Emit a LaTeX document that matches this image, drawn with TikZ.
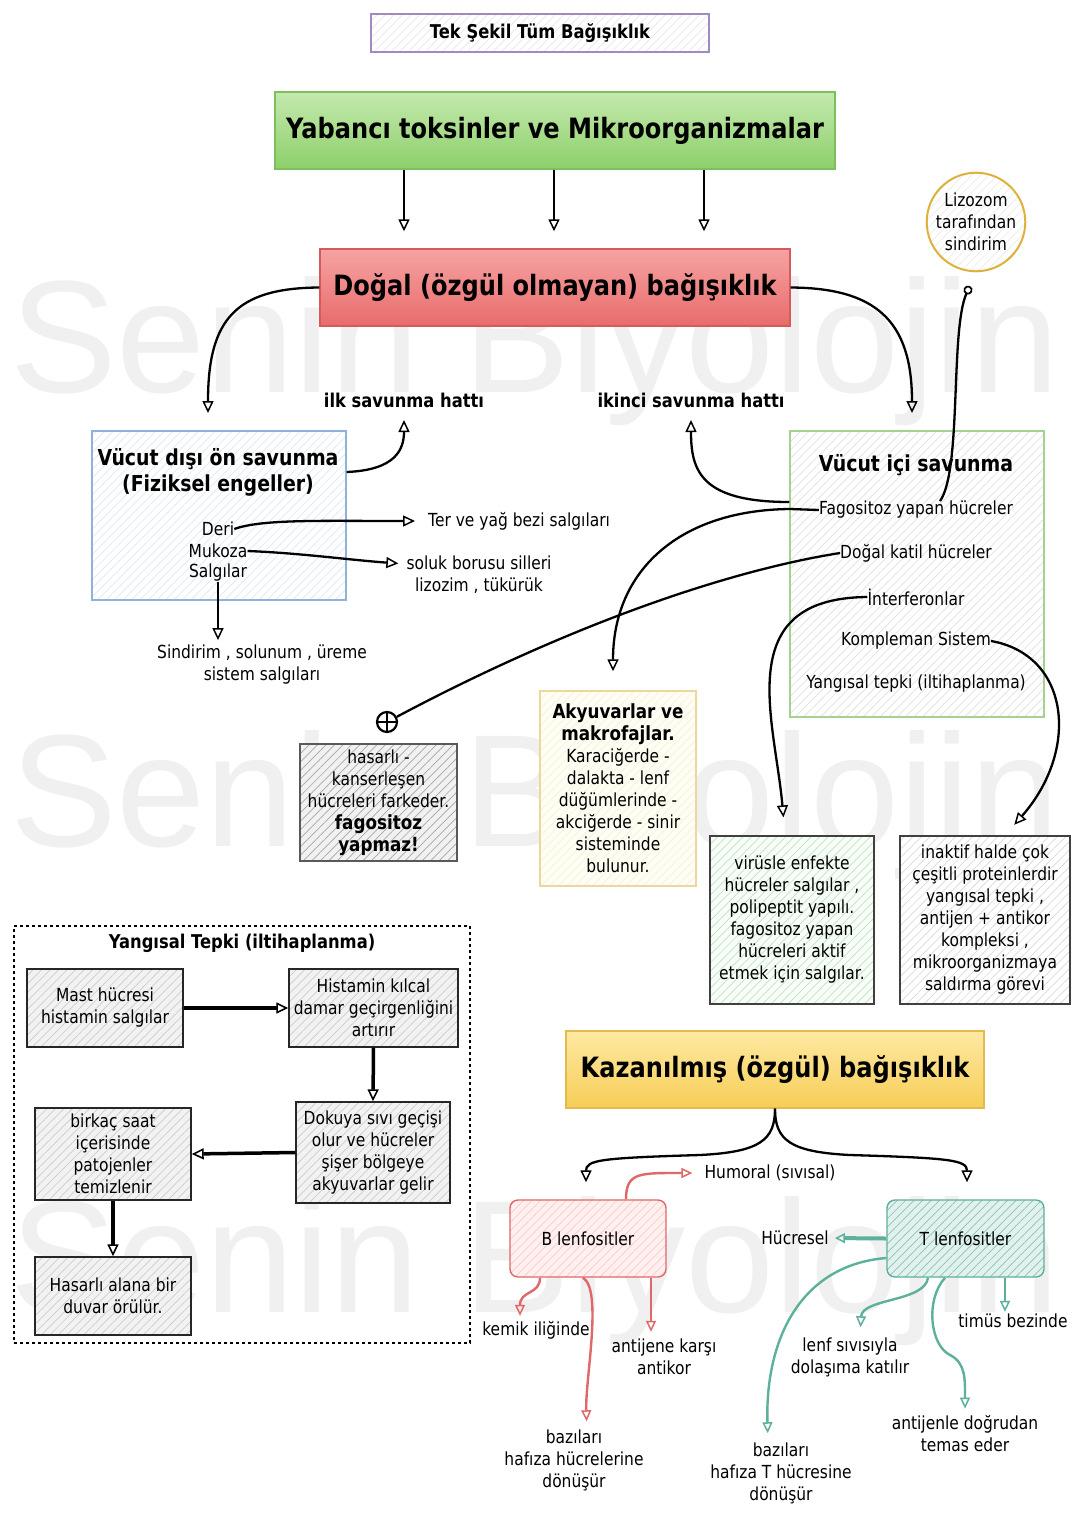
\documentclass[tikz,border=0pt]{standalone}
\usepackage{fontspec}
\setmainfont{DejaVu Sans}[FakeStretch=0.86]
\newfontfamily\wmfont{Liberation Sans}
\usetikzlibrary{arrows.meta,patterns.meta,calc}
\definecolor{purp}{HTML}{9F8BBF}
\definecolor{grnT}{HTML}{C4E9AE}
\definecolor{grnB}{HTML}{8DD06A}
\definecolor{grnD}{HTML}{7DBF5E}
\definecolor{redT}{HTML}{F6A3A3}
\definecolor{redB}{HTML}{E96B6B}
\definecolor{redD}{HTML}{D65A5A}
\definecolor{yelT}{HTML}{FDE9A2}
\definecolor{yelB}{HTML}{F7CD57}
\definecolor{yelD}{HTML}{E2BB4C}
\definecolor{bluD}{HTML}{8FB1DA}
\definecolor{lgrD}{HTML}{A7D18E}
\definecolor{goldD}{HTML}{DDB13A}
\definecolor{akyD}{HTML}{EDD79C}
\definecolor{bred}{HTML}{E06868}
\definecolor{tealc}{HTML}{5DB09C}
\begin{document}
\begin{tikzpicture}[x=1pt,y=-1pt,
  reg/.style={font=\fontsize{18}{22}\selectfont, align=center, inner sep=0pt},
  bld/.style={font=\bfseries\fontsize{19}{23}\selectfont, align=center, inner sep=0pt},
  hdr/.style={font=\bfseries\fontsize{28}{34}\selectfont, align=center},
  subh/.style={font=\bfseries\fontsize{22}{26}\selectfont, align=center, inner sep=0pt},
  hatch/.style 2 args={preaction={fill=#1}, pattern={Lines[angle=45,distance=6pt,line width=0.7pt]}, pattern color=#2},
  bx/.style={draw, line width=1.4pt, inner sep=2pt, align=center},
  arr/.style={line width=2.3pt, -{Triangle[open,length=12pt,width=11pt,line width=1.5pt]}},
  thk/.style={line width=3.5pt, -{Triangle[open,length=12pt,width=11pt,line width=1.6pt]}},
  rarr/.style={draw=bred, line width=2.4pt, -{Triangle[open,length=11pt,width=10pt,line width=1.5pt]}},
  tarr/.style={draw=tealc, line width=2.4pt, -{Triangle[open,length=11pt,width=10pt,line width=1.5pt]}},
  wm/.style={anchor=base west, inner sep=0pt, text=black!6, font=\wmfont\fontsize{160}{160}\selectfont}
]
\fill[white] (0,0) rectangle (1080,1529);
\useasboundingbox (0,0) rectangle (1080,1529);

% watermark
\node[wm] (wm1) at (10,392) {Senin Biyolojin};
\node[wm] (wm2) at (10,846) {Senin Biyolojin};
\node[wm] (wm3) at (10,1312) {Senin Biyolojin};

% top
\node[bx, draw=purp, hatch={white}{purp!22}, minimum width=338pt, minimum height=38pt, bld] (title) at (540,33) {Tek Şekil Tüm Bağışıklık};
\node[bx, draw=grnD, top color=grnT, bottom color=grnB, minimum width=560pt, minimum height=77pt, hdr] (yab) at (555,130.5) {Yabancı toksinler ve Mikroorganizmalar};
\node[bx, draw=redD, top color=redT, bottom color=redB, minimum width=470pt, minimum height=77pt, hdr] (dogal) at (555,287.5) {Doğal (özgül olmayan) bağışıklık};
\foreach \xx in {404,554,704}
  \draw[arr, shorten >=17pt] (yab.south -| \xx,0) -- (dogal.north -| \xx,0);

\node[bld] (ilk) at (404,400) {ilk savunma hattı};
\node[bld] (ikinci) at (691,400) {ikinci savunma hattı};
\coordinate (ilkA) at (404,420);
\coordinate (ikA) at (691,420);
\coordinate (lc) at (208,413);
\coordinate (rc) at (912,413);
\draw[arr] (dogal.west) .. controls (235,288) and (208,320) .. (lc);
\draw[arr] (dogal.east) .. controls (875,288) and (912,320) .. (rc);

% outer defence box
\node[draw=bluD, line width=1.4pt, hatch={white}{bluD!30}, minimum width=254pt, minimum height=169pt] (vdis) at (219,515.5) {};
\node[subh] (vdisT) at (218,472) {Vücut dışı ön savunma\\(Fiziksel engeller)};
\node[reg] (deri) at (218,529) {Deri};
\node[reg] (mukoza) at (218,551) {Mukoza};
\node[reg] (salgilar) at (218,573) {Salgılar};
\node[reg, anchor=west] (ter) at (428,521) {Ter ve yağ bezi salgıları};
\node[reg] (soluk) at (479,575) {soluk borusu silleri\\lizozim , tükürük};
\node[reg] (sindirim) at (262,665) {Sindirim , solunum , üreme\\sistem salgıları};
\draw[arr] (vdis.east |- 0,472) .. controls (395,470) and (404,450) .. (ilkA);
\draw[arr, shorten >=13pt] (deri.east) .. controls (262,519) and (320,521) .. (ter.west);
\draw[arr, shorten >=8pt] (mukoza.east) .. controls (300,553) and (350,560) .. (soluk.west |- 0,564);
\draw[arr, shorten >=5pt] (salgilar.south) -- (salgilar.south |- sindirim.north);

% inner defence box
\node[draw=lgrD, line width=1.4pt, hatch={white}{black!12}, minimum width=254pt, minimum height=286pt] (vic) at (917,574) {};
\node[subh] (vicT) at (916,465) {Vücut içi savunma};
\node[reg] (fago) at (916,510) {Fagositoz yapan hücreler};
\node[reg] (katil) at (916,553) {Doğal katil hücreler};
\node[reg] (inter) at (916,597) {İnterferonlar};
\node[reg] (komp) at (916,641) {Kompleman Sistem};
\node[reg] (yang) at (916,684) {Yangısal tepki (iltihaplanma)};
\draw[arr] (vic.west |- 0,502) .. controls (700,502) and (691,470) .. (ikA);

% lizozom
\node[circle, draw=goldD, line width=2pt, hatch={white}{black!8}, minimum size=96pt, inner sep=0pt, reg] (liz) at (976,222) {Lizozom\\tarafından\\sindirim};
\draw[line width=2.3pt, -{Circle[open,length=9pt,line width=1.7pt]}, shorten >=15pt] (fago.north -| 940,0) .. controls (962,470) and (950,330) .. (liz.south);

% lower boxes
\node[bx, draw=akyD, hatch={yellow!4}{akyD!40}, minimum width=156pt, minimum height=195pt, reg] (akyu) at (618,788.5)
  {{\bfseries\fontsize{19.5}{22}\selectfont Akyuvarlar ve}\\{\bfseries\fontsize{19.5}{22}\selectfont makrofajlar.}\\Karaciğerde -\\dalakta - lenf\\düğümlerinde -\\akciğerde - sinir\\sisteminde\\bulunur.};
\node[bx, draw=black!65, hatch={green!6!black!6}{black!35}, minimum width=157pt, minimum height=117pt, reg] (hasar) at (378.5,802.5)
  {hasarlı -\\kanserleşen\\hücreleri farkeder.\\{\bfseries\fontsize{19.5}{22}\selectfont fagositoz}\\{\bfseries\fontsize{19.5}{22}\selectfont yapmaz!}};
\node[bx, draw=black!75, hatch={green!4}{green!25!black!20}, minimum width=164pt, minimum height=168pt, reg] (virus) at (792,920)
  {virüsle enfekte\\hücreler salgılar ,\\polipeptit yapılı.\\fagositoz yapan\\hücreleri aktif\\etmek için salgılar.};
\node[bx, draw=black!75, hatch={white}{black!15}, minimum width=170pt, minimum height=168pt, reg] (inaktif) at (985,920)
  {inaktif halde çok\\çeşitli proteinlerdir\\yangısal tepki ,\\antijen + antikor\\kompleksi ,\\mikroorganizmaya\\saldırma görevi};

\node[circle, draw, line width=2.2pt, minimum size=20pt, inner sep=0pt] (xm) at (387,722) {};
\draw[line width=2pt] (xm.north) -- (xm.south) (xm.east) -- (xm.west);

\draw[arr, shorten >=19pt] (fago.west) -- (790,509) .. controls (680,510) and (613,570) .. (akyu.north -| 613,0);
\draw[line width=2.3pt] (katil.west) .. controls (720,572) and (560,630) .. (xm);
\draw[arr, shorten >=18pt] (inter.west) .. controls (730,598) and (775,720) .. (virus.north -| 785,0);
\draw[arr, shorten >=14pt] (komp.east) .. controls (1070,655) and (1080,750) .. (inaktif.north -| 1005,0);

% inflammation panel
\node[draw, dashed, line width=1.3pt, minimum width=456pt, minimum height=417pt] (yt) at (242,1134.5) {};
\node[bld] (ytT) at (242,943) {Yangısal Tepki (iltihaplanma)};
\node[bx, draw=black!85, hatch={black!5}{black!20}, minimum width=156pt, minimum height=78pt, reg] (mast) at (105,1008) {Mast hücresi\\histamin salgılar};
\node[bx, draw=black!85, hatch={black!5}{black!20}, minimum width=169pt, minimum height=78pt, reg] (hist) at (373.5,1008) {Histamin kılcal\\damar geçirgenliğini\\artırır};
\node[bx, draw=black!85, hatch={black!5}{black!20}, minimum width=154pt, minimum height=101pt, reg] (dok) at (373,1152.5) {Dokuya sıvı geçişi\\olur ve hücreler\\şişer bölgeye\\akyuvarlar gelir};
\node[bx, draw=black!85, hatch={black!5}{black!20}, minimum width=156pt, minimum height=92pt, reg] (birk) at (113,1154) {birkaç saat\\içerisinde\\patojenler\\temizlenir};
\node[bx, draw=black!85, hatch={black!5}{black!20}, minimum width=156pt, minimum height=78pt, reg] (has2) at (113,1296) {Hasarlı alana bir\\duvar örülür.};
\draw[thk] (mast.east) -- (hist.west);
\draw[thk] (hist.south) -- (dok.north);
\draw[thk] (dok.west) -- (birk.east);
\draw[thk] (birk.south) -- (has2.north);

% acquired immunity
\node[bx, draw=yelD, top color=yelT, bottom color=yelB, minimum width=418pt, minimum height=77pt, hdr] (kaz) at (775,1069.5) {Kazanılmış (özgül) bağışıklık};
\node[bx, draw=bred, rounded corners=8pt, hatch={red!6}{red!22}, minimum width=156pt, minimum height=77pt, reg] (bbox) at (588,1238.5) {B lenfositler};
\node[bx, draw=tealc, rounded corners=8pt, hatch={tealc!18}{tealc!75}, minimum width=157pt, minimum height=77pt, reg] (tbox) at (965.5,1238.5) {T lenfositler};
\draw[arr, shorten >=17pt] (kaz.south) .. controls (775,1140) and (760,1152) .. (700,1155) .. controls (600,1158) and (586,1160) .. (bbox.north -| 586,0);
\draw[arr, shorten >=17pt] (kaz.south) .. controls (775,1140) and (790,1152) .. (850,1155) .. controls (950,1158) and (967,1160) .. (tbox.north -| 967,0);

\node[reg] (humoral) at (770,1173) {Humoral (sıvısal)};
\node[reg] (hucresel) at (795,1238) {Hücresel};
\draw[rarr, shorten >=12pt] (bbox.north -| 626,0) .. controls (626,1172) and (640,1173) .. (humoral.west);
\draw[draw=tealc, line width=4pt, -{Triangle[open,length=10pt,width=10pt,line width=1.5pt]}, shorten >=6pt] (tbox.west) -- (hucresel.east);

\node[reg] (kemik) at (536,1330) {kemik iliğinde};
\node[reg] (bazB) at (574,1460) {bazıları\\hafıza hücrelerine\\dönüşür};
\node[reg] (antijene) at (664,1357) {antijene karşı\\antikor};
\draw[rarr, shorten >=5pt] (bbox.south -| 540,0) .. controls (540,1295) and (520,1290) .. (kemik.north -| 520,0);
\draw[rarr, shorten >=8pt] (bbox.south -| 583,0) .. controls (603,1290) and (585,1380) .. (bazB.north -| 587,0);
\draw[rarr, shorten >=7pt] (bbox.south -| 651,0) -- (antijene.north -| 651,0);

\node[reg] (bazT) at (781,1473) {bazıları\\hafıza T hücresine\\dönüşür};
\node[reg] (lenf) at (850,1357) {lenf sıvısıyla\\dolaşıma katılır};
\node[reg] (antijenle) at (965,1434) {antijenle doğrudan\\temas eder};
\node[reg] (timus) at (1013,1321) {timüs bezinde};
\draw[tarr, shorten >=9pt] (tbox.west |- 0,1258) .. controls (800,1265) and (765,1340) .. (bazT.north -| 768,0);
\draw[tarr, shorten >=10pt] (tbox.south -| 928,0) .. controls (925,1302) and (862,1298) .. (lenf.north -| 860,0);
\draw[tarr, shorten >=7pt] (tbox.south -| 945,0) .. controls (925,1300) and (930,1345) .. (950,1355) .. controls (966,1363) and (965,1380) .. (antijenle.north -| 965,0);
\draw[tarr, shorten >=2pt] (tbox.south -| 1005,0) -- (timus.north -| 1005,0);
\end{tikzpicture}
\end{document}
